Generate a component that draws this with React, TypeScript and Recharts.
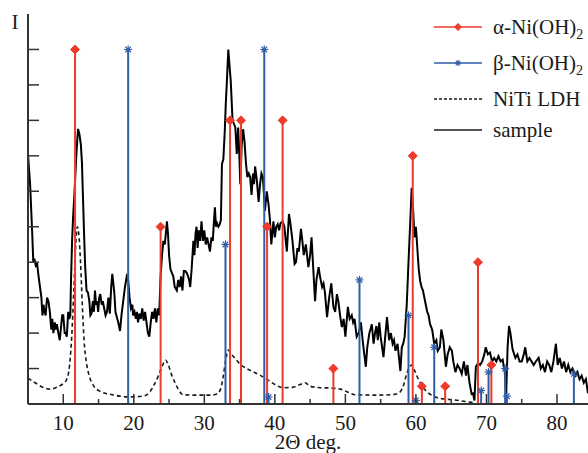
import {
  ComposedChart,
  Line,
  Scatter,
  XAxis,
  YAxis,
  ReferenceLine,
  Legend,
} from "recharts";

// reference peak positions (2θ) and relative intensities
const alphaTheta = [11.67, 23.8, 33.65, 35.2, 38.9, 41.1, 48.3, 59.55, 60.85, 64.15, 68.8, 70.7];
const alphaI = [10, 5, 8, 8, 5, 8, 1, 7, 0.5, 0.5, 4, 1.1];

const betaTheta = [19.2, 33.0, 38.5, 39.1, 52.0, 58.95, 60.0, 62.6, 69.25, 70.3, 72.65, 72.9, 82.4];
const betaI = [10, 4.5, 10, 0.2, 3.5, 2.5, 0.1, 1.6, 0.38, 0.9, 1.0, 0.22, 0.85];

// NiTi LDH pattern, [2θ, I]
const ldhScan: [number, number][] = [
  [5.0, 0.73], [6.0, 0.6], [7.0, 0.48], [8.1, 0.42], [9.2, 0.48], [10.0, 0.58],
  [10.5, 0.7], [10.9, 1.1], [11.2, 1.9], [11.5, 3.2], [11.75, 4.4], [12.0, 5.0],
  [12.2, 4.8], [12.45, 4.0], [12.7, 2.8], [12.95, 1.8], [13.3, 1.15], [13.6, 0.85],
  [14.2, 0.55], [15.2, 0.36], [17.0, 0.26], [19.2, 0.2], [21.3, 0.22], [22.3, 0.35],
  [22.9, 0.55], [23.5, 0.8], [24.0, 1.05], [24.5, 1.24], [24.9, 1.1], [25.4, 0.8],
  [25.85, 0.6], [26.4, 0.38], [27.0, 0.26], [29.0, 0.25], [31.0, 0.25], [31.8, 0.28],
  [32.3, 0.42], [32.7, 0.8], [33.0, 1.2], [33.4, 1.52], [33.8, 1.42], [34.3, 1.3],
  [35.1, 1.12], [36.0, 1.0], [37.0, 0.9], [38.0, 0.8], [38.85, 0.7], [40.0, 0.55],
  [41.2, 0.46], [42.5, 0.47], [43.6, 0.55], [44.3, 0.6], [45.0, 0.5], [46.5, 0.46],
  [48.0, 0.45], [49.3, 0.42], [50.5, 0.32], [51.4, 0.26], [54.0, 0.25], [56.5, 0.26],
  [57.5, 0.3], [58.2, 0.5], [58.7, 0.85], [59.1, 1.05], [59.4, 1.1], [59.8, 0.95],
  [60.3, 0.72], [61.1, 0.45], [62.5, 0.22], [64.0, 0.14], [65.3, 0.12], [67.0, 0.07],
  [68.3, 0.04],
];

// measured sample, [2θ, I]
const sampleScan: [number, number][] = [
  [5.0, 7.05], [5.3, 6.2], [5.6, 4.8], [5.75, 4.0], [5.9, 4.1], [6.1, 3.9], [6.3, 3.95],
  [6.5, 3.6], [6.7, 3.3], [6.9, 3.0], [7.05, 2.5], [7.2, 2.8], [7.35, 2.6], [7.5, 2.5],
  [7.7, 3.0], [7.9, 2.9], [8.1, 2.6], [8.3, 2.1], [8.45, 2.4], [8.6, 2.0], [8.8, 2.3],
  [8.95, 2.1], [9.1, 2.25], [9.3, 2.0], [9.5, 1.8], [9.7, 2.2], [9.85, 2.5], [10.0, 2.5],
  [10.2, 2.0], [10.35, 2.0], [10.5, 1.9], [10.7, 2.6], [10.85, 2.4], [11.0, 2.5],
  [11.1, 3.5], [11.25, 4.6], [11.4, 5.3], [11.55, 5.8], [11.7, 6.4], [11.85, 7.0],
  [12.0, 7.5], [12.1, 7.76], [12.3, 7.6], [12.5, 7.3], [12.65, 6.8], [12.8, 5.8],
  [12.95, 4.8], [13.1, 3.9], [13.3, 3.2], [13.5, 3.15], [13.7, 2.9], [13.85, 2.5],
  [14.0, 2.55], [14.2, 2.9], [14.35, 2.6], [14.5, 3.2], [14.65, 2.8], [14.8, 2.9],
  [14.95, 2.6], [15.1, 3.0], [15.25, 3.1], [15.45, 2.8], [15.6, 2.9], [15.8, 2.7],
  [16.0, 2.5], [16.2, 2.6], [16.4, 3.0], [16.6, 2.55], [16.8, 3.3], [16.95, 3.67],
  [17.1, 3.4], [17.25, 3.1], [17.4, 2.6], [17.6, 2.45], [17.8, 2.3], [18.05, 2.06],
  [18.25, 2.5], [18.5, 2.9], [18.75, 3.3], [19.0, 3.6], [19.2, 3.5], [19.4, 3.0],
  [19.6, 2.7], [19.8, 2.8], [19.9, 2.5], [20.1, 2.6], [20.3, 2.4], [20.45, 2.6],
  [20.6, 2.3], [20.8, 2.55], [21.0, 2.4], [21.2, 2.7], [21.4, 2.35], [21.6, 2.6],
  [21.8, 2.3], [22.0, 2.0], [22.2, 1.9], [22.4, 2.3], [22.6, 2.6], [22.8, 2.4],
  [23.0, 2.7], [23.2, 2.3], [23.4, 2.7], [23.6, 2.5], [23.8, 3.6], [24.0, 4.2],
  [24.2, 4.6], [24.4, 4.5], [24.7, 5.15], [24.85, 4.8], [25.0, 4.2], [25.2, 3.8],
  [25.4, 3.7], [25.6, 3.6], [25.8, 3.3], [26.1, 3.2], [26.3, 3.5], [26.5, 3.3],
  [26.7, 3.6], [26.9, 3.2], [27.1, 3.75], [27.3, 3.75], [27.5, 3.7], [27.7, 3.6],
  [27.85, 3.5], [28.0, 3.3], [28.2, 3.8], [28.45, 4.6], [28.6, 4.2], [28.75, 4.8],
  [28.9, 5.0], [29.05, 4.4], [29.2, 4.9], [29.4, 4.6], [29.6, 5.15], [29.8, 4.6],
  [30.0, 4.9], [30.2, 4.5], [30.4, 4.7], [30.6, 4.5], [30.8, 4.3], [31.0, 4.7],
  [31.2, 4.6], [31.35, 5.1], [31.5, 5.55], [31.65, 5.0], [31.8, 5.1], [32.0, 5.0],
  [32.2, 5.07], [32.35, 5.2], [32.5, 6.77], [32.7, 6.9], [32.9, 7.7], [33.05, 8.5],
  [33.2, 9.1], [33.4, 10.0], [33.55, 9.6], [33.75, 9.1], [34.0, 8.0], [34.2, 7.9],
  [34.4, 7.8], [34.6, 7.05], [34.8, 7.8], [35.0, 6.8], [35.1, 6.2], [35.3, 7.3],
  [35.5, 7.75], [35.7, 7.4], [35.9, 6.8], [36.1, 6.4], [36.3, 6.5], [36.5, 6.4],
  [36.7, 5.9], [36.9, 6.5], [37.05, 6.2], [37.2, 6.7], [37.45, 6.3], [37.7, 5.7],
  [37.9, 6.2], [38.1, 6.5], [38.3, 6.4], [38.6, 5.45], [38.85, 6.0], [39.1, 5.64],
  [39.3, 5.2], [39.5, 4.5], [39.8, 5.15], [40.0, 4.7], [40.2, 5.0], [40.4, 5.07],
  [40.6, 4.9], [40.8, 5.1], [41.1, 5.15], [41.35, 5.0], [41.7, 4.3], [42.0, 5.36],
  [42.2, 5.1], [42.5, 4.6], [42.8, 3.95], [43.0, 4.0], [43.2, 4.4], [43.4, 4.3],
  [43.7, 4.94], [43.9, 4.6], [44.1, 4.2], [44.4, 4.5], [44.75, 3.86], [45.0, 4.2],
  [45.2, 4.7], [45.45, 3.8], [45.7, 2.9], [45.9, 3.5], [46.2, 3.86], [46.4, 3.6],
  [46.7, 3.3], [46.9, 3.4], [47.1, 3.15], [47.4, 2.45], [47.7, 3.0], [48.0, 3.4],
  [48.3, 2.74], [48.55, 2.6], [48.8, 3.1], [49.0, 2.9], [49.25, 2.5], [49.5, 2.17],
  [49.75, 2.4], [50.0, 1.9], [50.35, 2.74], [50.6, 2.4], [50.9, 2.5], [51.1, 2.3],
  [51.3, 2.4], [51.6, 1.9], [51.9, 2.0], [52.2, 2.3], [52.5, 1.7], [52.9, 1.05],
  [53.1, 1.6], [53.4, 2.0], [53.75, 2.25], [54.0, 1.7], [54.2, 2.0], [54.4, 2.2],
  [54.6, 1.8], [54.8, 2.3], [55.0, 1.9], [55.4, 1.32], [55.65, 1.9], [55.9, 2.45],
  [56.2, 1.8], [56.45, 2.0], [56.7, 1.7], [56.9, 1.8], [57.1, 1.5], [57.4, 1.7],
  [57.6, 1.3], [57.8, 0.93], [58.0, 1.6], [58.2, 1.7], [58.4, 1.9], [58.7, 2.8],
  [58.95, 4.0], [59.2, 5.15], [59.4, 6.1], [59.6, 5.5], [59.8, 4.7], [60.0, 5.0],
  [60.2, 4.4], [60.4, 3.8], [60.6, 3.47], [60.8, 3.3], [61.0, 3.2], [61.3, 2.9],
  [61.6, 2.6], [61.8, 2.5], [62.0, 2.26], [62.3, 2.1], [62.6, 1.7], [62.9, 1.8],
  [63.1, 1.5], [63.4, 1.6], [63.6, 2.1], [63.9, 1.8], [64.25, 1.05], [64.5, 1.4],
  [64.8, 1.6], [65.1, 1.5], [65.3, 1.2], [65.6, 0.9], [65.9, 1.1], [66.2, 1.0],
  [66.5, 0.85], [66.8, 1.2], [67.1, 0.8], [67.3, 1.1], [67.6, 0.6], [67.9, 0.28],
  [68.1, 0.3], [68.3, 0.1], [68.5, 1.05], [68.8, 1.15], [69.1, 1.1], [69.4, 1.2],
  [69.7, 1.4], [69.9, 1.6], [70.2, 1.4], [70.5, 1.45], [70.8, 1.2], [71.1, 1.3],
  [71.4, 1.2], [71.7, 1.35], [72.0, 1.2], [72.3, 1.25], [72.6, 0.9], [72.8, 0.28],
  [73.0, 1.6], [73.2, 2.2], [73.4, 2.0], [73.7, 1.55], [74.1, 1.3], [74.4, 1.4],
  [74.7, 1.2], [75.0, 1.2], [75.3, 1.4], [75.5, 1.6], [75.8, 1.2], [76.1, 1.3],
  [76.4, 1.2], [76.7, 1.1], [77.0, 1.2], [77.4, 1.3], [77.7, 1.0], [78.0, 1.1],
  [78.3, 0.9], [78.6, 1.2], [78.9, 1.1], [79.2, 0.9], [79.5, 1.2], [79.85, 1.7],
  [80.1, 1.1], [80.4, 1.3], [80.7, 1.0], [81.0, 1.2], [81.3, 0.9], [81.6, 1.1],
  [81.9, 0.9], [82.2, 1.0], [82.6, 0.8], [82.9, 0.9], [83.2, 0.7], [83.5, 0.8],
  [83.8, 0.6], [84.1, 0.7], [84.4, 0.3],
];

const xTicks = [10, 15, 20, 25, 30, 35, 40, 45, 50, 55, 60, 65, 70, 75, 80];
const yTicks = [1, 2, 3, 4, 5, 6, 7, 8, 9, 10];

const SERIF = '"Liberation Serif", serif';
const RED = "#ee3a2b";
const BLUE = "#2f5da8";
const AXIS = "#333";
const INK = "#1a1a1a";

const toPoints = (xs: number[], ys: number[]) => xs.map((x, i) => ({ x, y: ys[i] }));
const alphaPoints = toPoints(alphaTheta, alphaI);
const betaPoints = toPoints(betaTheta, betaI);
const ldhPoints = ldhScan.map(([x, y]) => ({ x, y }));
const samplePoints = sampleScan.map(([x, y]) => ({ x, y }));

function Diamond({ cx, cy, r = 4 }: { cx: number; cy: number; r?: number }) {
  return (
    <polygon
      points={`${cx},${cy - r} ${cx + r},${cy} ${cx},${cy + r} ${cx - r},${cy}`}
      fill={RED}
      stroke={RED}
    />
  );
}

function Asterisk({ cx, cy, r = 4 }: { cx: number; cy: number; r?: number }) {
  const d = r * 0.7;
  return (
    <g stroke={BLUE} strokeWidth={1.2}>
      <line x1={cx - r} x2={cx + r} y1={cy} y2={cy} />
      <line x1={cx} x2={cx} y1={cy - r} y2={cy + r} />
      <line x1={cx - d} x2={cx + d} y1={cy - d} y2={cy + d} />
      <line x1={cx - d} x2={cx + d} y1={cy + d} y2={cy - d} />
    </g>
  );
}

const XTick = (props: any) => {
  const { x, y, payload } = props;
  const major = payload.value % 10 === 0;
  return (
    <g>
      <line x1={x} x2={x} y1={y} y2={y - (major ? 10 : 5)} stroke={AXIS} strokeWidth={1.5} />
      {major && (
        <text x={x} y={y + 26} textAnchor="middle" style={{ fontFamily: SERIF }} fontSize={21} fill={INK}>
          {payload.value}
        </text>
      )}
    </g>
  );
};

const YTick = (props: any) => {
  const { x, y } = props;
  return <line x1={x} x2={x + 11} y1={y} y2={y} stroke={AXIS} strokeWidth={1.5} />;
};

const legendItems = [
  { name: "α-Ni(OH)", sub: "2", kind: "alpha", h: 36 },
  { name: "β-Ni(OH)", sub: "2", kind: "beta", h: 36 },
  { name: "NiTi LDH", sub: "", kind: "ldh", h: 36 },
  { name: "sample", sub: "", kind: "sample", h: 26 },
];

function LegendBox() {
  return (
    <div style={{ fontFamily: SERIF, fontSize: 21, color: INK }}>
      {legendItems.map((it) => (
        <div key={it.kind} style={{ height: it.h, display: "flex", alignItems: "center" }}>
          <svg width={48} height={14} style={{ flex: "none" }}>
            {it.kind === "alpha" && (
              <>
                <line x1={0} x2={48} y1={7} y2={7} stroke={RED} strokeWidth={1.5} />
                <Diamond cx={24} cy={7} r={3.5} />
              </>
            )}
            {it.kind === "beta" && (
              <>
                <line x1={0} x2={48} y1={7} y2={7} stroke={BLUE} strokeWidth={1.5} />
                <Asterisk cx={24} cy={7} r={3} />
              </>
            )}
            {it.kind === "ldh" && (
              <line x1={0} x2={48} y1={7} y2={7} stroke={INK} strokeWidth={1.3} strokeDasharray="3 2" />
            )}
            {it.kind === "sample" && (
              <line x1={0} x2={48} y1={7} y2={7} stroke={INK} strokeWidth={1.5} />
            )}
          </svg>
          <span style={{ marginLeft: 11, whiteSpace: "nowrap", lineHeight: "24px" }}>
            {it.name}
            {it.sub && <sub style={{ fontSize: 14, lineHeight: 0 }}>{it.sub}</sub>}
          </span>
        </div>
      ))}
    </div>
  );
}

export default function App() {
  return (
    <div style={{ position: "absolute", left: 0, top: 0, width: 588, height: 453, background: "#fff", fontFamily: SERIF }}>
      <ComposedChart width={588} height={453} margin={{ top: 14, right: 0, bottom: 0, left: 0 }} style={{ fontFamily: SERIF }}>
        <XAxis
          type="number"
          dataKey="x"
          domain={[5, 84.4]}
          ticks={xTicks}
          interval={0}
          allowDataOverflow
          tick={<XTick />}
          tickLine={false}
          tickSize={0}
          tickMargin={0}
          height={49}
          axisLine={{ stroke: AXIS, strokeWidth: 2 }}
          label={{
            value: "2Θ deg.",
            position: "insideBottom",
            offset: 4,
            style: { fontFamily: SERIF },
            fontSize: 21,
            fill: INK,
          }}
        />
        <XAxis
          xAxisId="top"
          orientation="top"
          type="number"
          domain={[5, 84.4]}
          height={0}
          tick={false}
          tickLine={false}
          axisLine={{ stroke: AXIS, strokeWidth: 2 }}
        />
        <YAxis
          type="number"
          domain={[0, 11]}
          ticks={yTicks}
          interval={0}
          allowDataOverflow
          width={28}
          tick={<YTick />}
          tickLine={false}
          tickSize={0}
          tickMargin={0}
          axisLine={{ stroke: AXIS, strokeWidth: 2 }}
          label={{
            content: () => (
              <text x={15} y={29} textAnchor="middle" style={{ fontFamily: SERIF }} fontSize={21} fill={INK}>
                I
              </text>
            ),
          }}
        />
        <Legend
          layout="vertical"
          align="center"
          verticalAlign="middle"
          wrapperStyle={{ left: 434, top: 9, width: 154, height: 140 }}
          content={() => <LegendBox />}
        />
        <Line
          data={ldhPoints}
          dataKey="y"
          type="monotone"
          stroke={INK}
          strokeWidth={1.6}
          strokeDasharray="4 3"
          dot={false}
          isAnimationActive={false}
        />
        <Line
          data={samplePoints}
          dataKey="y"
          type="linear"
          stroke="#000"
          strokeWidth={2}
          dot={false}
          isAnimationActive={false}
        />
        {alphaPoints.map((p, i) => (
          <ReferenceLine
            key={`a-${i}`}
            segment={[{ x: p.x, y: 0 }, { x: p.x, y: p.y }]}
            stroke={RED}
            strokeWidth={2}
          />
        ))}
        {betaPoints.map((p, i) => (
          <ReferenceLine
            key={`b-${i}`}
            segment={[{ x: p.x, y: 0 }, { x: p.x, y: p.y }]}
            stroke={BLUE}
            strokeWidth={2}
          />
        ))}
        <Scatter
          data={alphaPoints}
          dataKey="y"
          isAnimationActive={false}
          shape={(s: any) => <Diamond cx={s.cx} cy={s.cy} r={4.5} />}
        />
        <Scatter
          data={betaPoints}
          dataKey="y"
          isAnimationActive={false}
          shape={(s: any) => <Asterisk cx={s.cx} cy={s.cy} r={4} />}
        />
      </ComposedChart>
    </div>
  );
}
